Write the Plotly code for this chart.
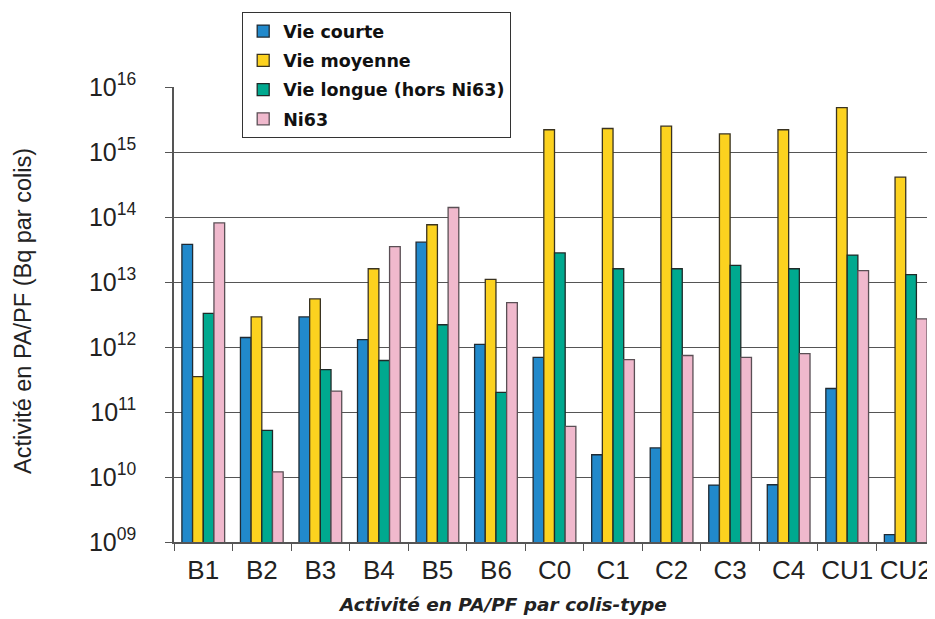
import plotly.graph_objects as go

categories = ["B1", "B2", "B3", "B4", "B5", "B6", "C0", "C1", "C2", "C3", "C4", "CU1", "CU2"]
vie_courte = [3.8e13, 1.4e12, 2.9e12, 1.3e12, 4.1e13, 1.1e12, 6.9e11, 2.2e10, 2.8e10, 7.5e9, 7.6e9, 2.3e11, 1.3e9]
vie_moyenne = [3.5e11, 2.9e12, 5.5e12, 1.6e13, 7.6e13, 1.1e13, 2.2e15, 2.3e15, 2.5e15, 1.9e15, 2.2e15, 4.8e15, 4.1e14]
vie_longue = [3.3e12, 5.2e10, 4.5e11, 6.2e11, 2.2e12, 2.0e11, 2.8e13, 1.6e13, 1.6e13, 1.8e13, 1.6e13, 2.6e13, 1.3e13]
ni63 = [8.1e13, 1.2e10, 2.1e11, 3.5e13, 1.4e14, 4.8e12, 6.0e10, 6.4e11, 7.4e11, 6.9e11, 7.9e11, 1.5e13, 2.7e12]

series_names = ["Vie courte", "Vie moyenne", "Vie longue (hors Ni63)", "Ni63"]
series_values = [vie_courte, vie_moyenne, vie_longue, ni63]
colors = ["#2189cb", "#fcd21f", "#00a98f", "#f0b9cd"]
outlines = ["#1f2a33", "#3a3320", "#1f2a28", "#5a4f55"]

tick_exps = [9, 10, 11, 12, 13, 14, 15, 16]
tick_vals = [10.0 ** e for e in tick_exps]
tick_text = ["10<sup>%02d</sup>" % e for e in tick_exps]

# the page body adds an 8px offset; the figure is sized to the remaining viewport
OFF = 8
W, H = 935 - OFF, 619 - OFF
L, T = 174 - OFF, 87 - OFF
R = 0
B = H - (542 - OFF)
PW, PH = W - L - R, H - T - B

def px(x):
    return (x - OFF - L) / PW

def py(y):
    return (H - B - (y - OFF)) / PH

fig = go.Figure()
for name, vals, c, oc in zip(series_names, series_values, colors, outlines):
    fig.add_trace(go.Bar(
        x=categories, y=vals, name=name, legendgroup=name,
        marker=dict(color=c, line=dict(color=oc, width=1.3)),
    ))

sans = "Liberation Sans, Arial, sans-serif"
wide = "DejaVu Sans, Verdana, sans-serif"

fig.update_layout(
    width=W, height=H,
    margin=dict(l=L, r=R, t=T, b=B, autoexpand=False),
    paper_bgcolor="white", plot_bgcolor="white",
    barmode="group", bargap=0.27, bargroupgap=0,
    font=dict(family=sans, color="#222"),
    showlegend=True,
    legend=dict(
        x=px(242), y=py(12), xanchor="left", yanchor="top",
        bgcolor="white", bordercolor="#333", borderwidth=1.2,
        font=dict(size=17.5, family=wide, color="#111", weight="bold"),
        tracegroupgap=3.5, itemwidth=30,
    ),
    xaxis=dict(
        automargin=False,
        showline=True, linecolor="#555", linewidth=1.5,
        ticks="outside", tickson="boundaries", ticklen=7, tickcolor="#555", tickwidth=1.2,
        tickangle=0, ticklabelstandoff=4,
        tickfont=dict(size=26, family=sans, color="#222"),
        showgrid=False,
    ),
    yaxis=dict(
        automargin=False,
        type="log", range=[9, 16],
        tickvals=tick_vals, ticktext=tick_text,
        showline=True, linecolor="#555", linewidth=1.5,
        ticks="outside", ticklen=7, tickcolor="#555", tickwidth=1.2,
        ticklabelstandoff=24,
        tickfont=dict(size=25, family=sans, color="#222"),
        showgrid=True, gridcolor="#555", gridwidth=1.3,
    ),
    annotations=[
        dict(text="Activité en PA/PF (Bq par colis)", xref="paper", yref="paper",
             x=px(23), y=py(311), xanchor="center", yanchor="middle", textangle=-90,
             showarrow=False, font=dict(size=23.5, color="#222", family=sans)),
        dict(text="<b><i>Activité en PA/PF par colis-type</i></b>", xref="paper", yref="paper",
             x=px(502), y=py(604), xanchor="center", yanchor="middle",
             showarrow=False, font=dict(size=18.5, color="#222", family=wide)),
    ],
)

fig.write_html("out.html")
